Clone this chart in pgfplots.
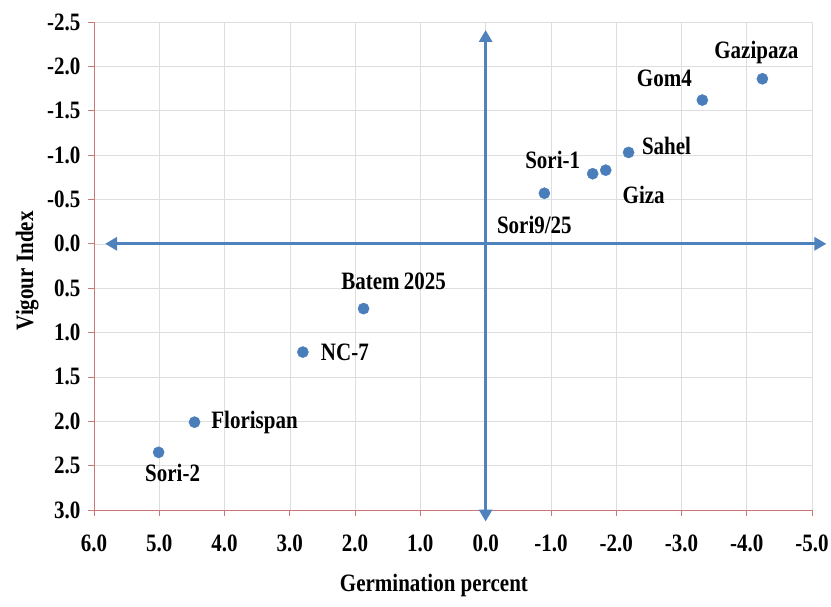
\documentclass[border=0pt]{standalone}
\usepackage{pgfplots}
\pgfplotsset{compat=1.18}
\usepackage{fontspec}
\setmainfont{Liberation Serif}[FakeStretch=0.84]
\usetikzlibrary{arrows.meta}
\definecolor{ptblue}{RGB}{74,126,187}
\definecolor{arrblue}{RGB}{79,129,189}
\definecolor{axred}{RGB}{205,120,120}
\definecolor{gridgray}{RGB}{222,222,222}
\begin{document}
\begin{tikzpicture}[x=1pt,y=1pt]
\useasboundingbox (0,0) rectangle (831,606);
\begin{axis}[
  at={(94pt,96pt)}, anchor=south west,
  scale only axis, width=718pt, height=488pt,
  x dir=reverse, y dir=reverse,
  xmin=-5, xmax=6, ymin=-2.5, ymax=3,
  xtick={-5,-4,...,6}, ytick={-2.5,-2,...,3},
  grid=major, major grid style={gridgray, line width=0.6pt},
  axis x line*=bottom, axis y line*=left,
  axis line style={axred, line width=0.7pt, -},
  tick style={axred, line width=0.7pt},
  tick align=outside, major tick length=6pt,
  /pgf/number format/assume math mode=true,
  /pgf/number format/.cd, fixed, fixed zerofill, precision=1, /tikz/.cd,
  ticklabel style={font=\fontsize{25}{29}\selectfont\bfseries},
  xticklabel style={yshift=-15pt},
  yticklabel style={xshift=-4pt},
  xlabel={Germination percent}, ylabel={Vigour Index},
  xlabel style={at={(axis description cs:0.4735,-0.154)}, anchor=center, font=\fontsize{25}{29}\selectfont\bfseries},
  ylabel style={at={(axis description cs:-0.093,0.49)}, anchor=center, rotate=0, font=\fontsize{25}{29}\selectfont\bfseries},
  clip=false,
]
\draw[{Triangle[length=12pt,width=13pt]}-{Triangle[length=12pt,width=13pt]}, arrblue, line width=3pt] (axis cs:5.83,0) -- (axis cs:-5.22,0);
\draw[{Triangle[length=12pt,width=13pt]}-{Triangle[length=12pt,width=13pt]}, arrblue, line width=3pt] (axis cs:0,-2.41) -- (axis cs:0,3.13);
\addplot[only marks, mark=*, mark size=5.6pt, mark options={fill=ptblue, draw=ptblue}] coordinates {
 (-4.24,-1.86) (-3.32,-1.62) (-2.19,-1.03) (-1.84,-0.83) (-1.64,-0.79) (-0.90,-0.57)
 (1.87,0.73) (2.80,1.22) (4.46,2.01) (5.01,2.35)
};
\tikzset{lbl/.style={font=\fontsize{25}{29}\selectfont\bfseries, inner sep=0pt, anchor=center}}
\node[lbl, xshift=-6pt, yshift=26pt] at (axis cs:-4.24,-1.86) {Gazipaza};
\node[lbl, xshift=-38pt, yshift=22pt] at (axis cs:-3.32,-1.62) {Gom4};
\node[lbl, xshift=38pt, yshift=6pt] at (axis cs:-2.19,-1.03) {Sahel};
\node[lbl, xshift=38pt, yshift=-25pt] at (axis cs:-1.84,-0.83) {Giza};
\node[lbl, xshift=-40pt, yshift=14pt] at (axis cs:-1.64,-0.79) {Sori-1};
\node[lbl, xshift=-10pt, yshift=-32pt] at (axis cs:-0.90,-0.57) {Sori9/25};
\node[lbl, xshift=30pt, yshift=27pt] at (axis cs:1.87,0.73) {Batem\,2025};
\node[lbl, xshift=42pt, yshift=0pt] at (axis cs:2.80,1.22) {NC-7};
\node[lbl, xshift=60pt, yshift=0pt] at (axis cs:4.46,2.01) {Florispan};
\node[lbl, xshift=14pt, yshift=-21pt] at (axis cs:5.01,2.35) {Sori-2};
\end{axis}
\end{tikzpicture}
\end{document}
